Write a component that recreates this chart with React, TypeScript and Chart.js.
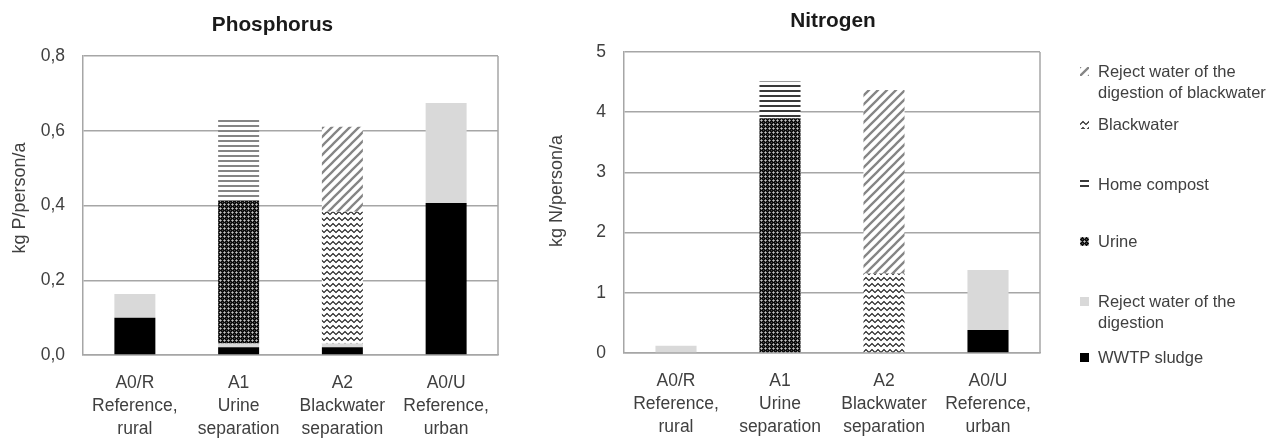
import React, { useEffect, useRef } from "react";
import { Chart, registerables } from "chart.js";

Chart.register(...registerables);

// ---------- data ----------
const categories: string[][] = [
  ["A0/R", "Reference,", "rural"],
  ["A1", "Urine", "separation"],
  ["A2", "Blackwater", "separation"],
  ["A0/U", "Reference,", "urban"],
];

const seriesNames = [
  "WWTP sludge",
  "Reject water of the digestion",
  "Urine",
  "Blackwater",
  "Home compost",
  "Reject water of the digestion of blackwater",
];

// Phosphorus (kg P/person/a)
const wwtpP = [0.1, 0.021, 0.021, 0.407];
const rejectP = [0.063, 0.01, 0.01, 0.267];
const urineP = [0, 0.381, 0, 0];
const blackwaterP = [0, 0, 0.352, 0];
const compostP = [0, 0.222, 0, 0];
const rejectBwP = [0, 0, 0.228, 0];

// Nitrogen (kg N/person/a)
const wwtpN = [0, 0, 0, 0.38];
const rejectN = [0.12, 0, 0, 1.0];
const urineN = [0, 3.9, 0, 0];
const blackwaterN = [0, 0, 1.32, 0];
const compostN = [0, 0.61, 0, 0];
const rejectBwN = [0, 0, 3.05, 0];

const pTicks = [0, 0.2, 0.4, 0.6, 0.8];
const nTicks = [0, 1, 2, 3, 4, 5];

// ---------- styling ----------
const FONT = "'Liberation Sans', Arial, Helvetica, sans-serif";
const TXT = "#404040";
const GRID = "#a6a6a6";

type Kind = "wwtp" | "reject" | "urine" | "blackwater" | "compost" | "rejectBw";
const kinds: Kind[] = ["wwtp", "reject", "urine", "blackwater", "compost", "rejectBw"];

function makeTile(kind: Kind, dark: boolean): HTMLCanvasElement {
  const c = document.createElement("canvas");
  let w = 6, h = 6;
  if (kind === "urine") { w = 4; h = 4; }
  if (kind === "compost") { w = 6; h = 5; }
  if (kind === "rejectBw") { w = 9; h = 9; }
  if (kind === "blackwater") { w = 6; h = 6; }
  c.width = w; c.height = h;
  const g = c.getContext("2d")!;
  if (kind === "wwtp") { g.fillStyle = "#000"; g.fillRect(0, 0, w, h); }
  else if (kind === "reject") { g.fillStyle = "#d9d9d9"; g.fillRect(0, 0, w, h); }
  else if (kind === "urine") {
    g.fillStyle = "#0d0d0d"; g.fillRect(0, 0, w, h);
    g.fillStyle = "#8c8c8c";
    [[1, 0], [3, 0], [0, 1], [0, 3]].forEach(([x, y]) => g.fillRect(x, y, 1, 1));
    g.fillStyle = "#c4c4c4"; g.fillRect(0, 0, 1, 1);
    g.fillStyle = "#4a4a4a"; g.fillRect(2, 2, 1, 1);
  } else if (kind === "compost") {
    g.fillStyle = "#fff"; g.fillRect(0, 0, w, h);
    g.fillStyle = dark ? "#3a3a3a" : "#858585";
    g.fillRect(0, 0, w, 2);
  } else if (kind === "blackwater") {
    g.fillStyle = "#fff"; g.fillRect(0, 0, w, h);
    g.strokeStyle = "#1a1a1a"; g.lineWidth = 1.1;
    g.beginPath(); g.moveTo(-3, 1.5); g.lineTo(0, 4.5); g.lineTo(3, 1.5); g.lineTo(6, 4.5); g.lineTo(9, 1.5); g.stroke();
  } else if (kind === "rejectBw") {
    g.fillStyle = "#fff"; g.fillRect(0, 0, w, h);
    g.strokeStyle = "#858585"; g.lineWidth = 2.3;
    g.beginPath();
    g.moveTo(0, h); g.lineTo(w, 0);
    g.moveTo(-2, 2); g.lineTo(2, -2);
    g.moveTo(w - 2, h + 2); g.lineTo(w + 2, h - 2);
    g.stroke();
  }
  return c;
}

function fillFor(kind: Kind, dark: boolean): CanvasPattern | string {
  if (kind === "wwtp") return "#000";
  if (kind === "reject") return "#d9d9d9";
  const ctx = document.createElement("canvas").getContext("2d")!;
  return ctx.createPattern(makeTile(kind, dark), "repeat")!;
}

const decor = {
  id: "decor",
  beforeDatasetsDraw(chart: any) {
    const { ctx, chartArea } = chart;
    ctx.save();
    ctx.strokeStyle = GRID;
    ctx.lineWidth = 1.5;
    ctx.beginPath();
    ctx.moveTo(chartArea.right, chartArea.top);
    ctx.lineTo(chartArea.right, chartArea.bottom);
    ctx.stroke();
    ctx.restore();
  },
  afterDraw(chart: any) {
    const o = chart.options.plugins.decor;
    if (!o) return;
    const { ctx } = chart;
    ctx.save();
    ctx.fillStyle = "#1a1a1a";
    ctx.font = `bold 20.8px ${FONT}`;
    ctx.textAlign = "center";
    ctx.textBaseline = "middle";
    ctx.fillText(o.title, chart.width / 2, o.titleY);
    ctx.fillStyle = TXT;
    ctx.font = `18px ${FONT}`;
    ctx.translate(o.yTitleX, o.yTitleY);
    ctx.rotate(-Math.PI / 2);
    ctx.fillText(o.yTitle, 0, 0);
    ctx.restore();
  },
};

function buildChart(
  canvas: HTMLCanvasElement,
  series: number[][],
  dark: boolean,
  ticks: number[],
  fmt: (v: number) => string,
  geo: { yw: number; xh: number; top: number; right: number; title: string; titleY: number; yTitle: string; yTitleX: number; yTitleY: number }
) {
  const step = ticks[1] - ticks[0];
  return new Chart(canvas, {
    type: "bar",
    data: {
      labels: categories,
      datasets: series.map((vals, i) => ({
        label: seriesNames[i],
        data: vals,
        backgroundColor: fillFor(kinds[i], dark) as any,
        borderWidth: 0,
        categoryPercentage: 1,
        barPercentage: 0.395,
      })),
    },
    options: {
      responsive: false,
      animation: false,
      devicePixelRatio: 1,
      layout: { padding: { top: geo.top, right: geo.right, left: 0, bottom: 0 } },
      plugins: {
        legend: { display: false },
        tooltip: { enabled: false },
        decor: { title: geo.title, titleY: geo.titleY, yTitle: geo.yTitle, yTitleX: geo.yTitleX, yTitleY: geo.yTitleY },
      } as any,
      scales: {
        x: {
          stacked: true,
          grid: { display: false, drawTicks: false },
          border: { display: true, color: GRID, width: 1.5 },
          ticks: {
            color: TXT,
            font: { family: FONT, size: 17.5, lineHeight: 1.31 },
            padding: 16.5,
            autoSkip: false,
            maxRotation: 0,
          },
          afterFit: (s: any) => { s.height = geo.xh; },
        },
        y: {
          stacked: true,
          min: ticks[0],
          max: ticks[ticks.length - 1],
          ticks: {
            stepSize: step,
            padding: 18,
            color: TXT,
            font: { family: FONT, size: 17.5 },
            callback: (v: any) => fmt(Number(v)),
          },
          grid: { color: GRID, lineWidth: 1.5, drawTicks: false },
          border: { display: true, color: GRID, width: 1.5 },
          afterFit: (s: any) => { s.width = geo.yw; },
        },
      },
    } as any,
    plugins: [decor],
  });
}

const legendItems: { kind: Kind; lines: string[]; top: number }[] = [
  { kind: "rejectBw", lines: ["Reject water of the", "digestion of blackwater"], top: 61 },
  { kind: "blackwater", lines: ["Blackwater"], top: 114 },
  { kind: "compost", lines: ["Home compost"], top: 174 },
  { kind: "urine", lines: ["Urine"], top: 231 },
  { kind: "reject", lines: ["Reject water of the", "digestion"], top: 291 },
  { kind: "wwtp", lines: ["WWTP sludge"], top: 347 },
];

function Swatch({ kind }: { kind: Kind }) {
  const ref = useRef<HTMLCanvasElement>(null);
  useEffect(() => {
    const c = ref.current;
    if (!c) return;
    const g = c.getContext("2d")!;
    g.clearRect(0, 0, c.width, c.height);
    g.fillStyle = fillFor(kind, true) as any;
    g.fillRect(0, 0, c.width, c.height);
  }, [kind]);
  return <canvas ref={ref} width={9} height={9} style={{ position: "absolute", left: 0, top: 6 }} />;
}

export default function App() {
  const pRef = useRef<HTMLCanvasElement>(null);
  const nRef = useRef<HTMLCanvasElement>(null);

  useEffect(() => {
    const fmtP = (v: number) => v.toFixed(1).replace(".", ",");
    const fmtN = (v: number) => String(Math.round(v));
    const pc = buildChart(
      pRef.current!,
      [wwtpP, rejectP, urineP, blackwaterP, compostP, rejectBwP],
      false,
      pTicks,
      fmtP,
      { yw: 83, xh: 86, top: 56, right: 47, title: "Phosphorus", titleY: 25, yTitle: "kg P/person/a", yTitleX: 20, yTitleY: 198 }
    );
    const nc = buildChart(
      nRef.current!,
      [wwtpN, rejectN, urineN, blackwaterN, compostN, rejectBwN],
      true,
      nTicks,
      fmtN,
      { yw: 79, xh: 88, top: 52, right: 81, title: "Nitrogen", titleY: 21, yTitle: "kg N/person/a", yTitleX: 12, yTitleY: 191 }
    );
    return () => {
      pc.destroy();
      nc.destroy();
    };
  }, []);

  return (
    <div style={{ position: "absolute", left: 0, top: 0, width: 1287, height: 441, background: "#fff", overflow: "hidden" }}>
      <canvas ref={pRef} width={545} height={441} style={{ position: "absolute", left: 0, top: 0 }} />
      <canvas ref={nRef} width={576} height={441} style={{ position: "absolute", left: 545, top: 0 }} />
      <div style={{ position: "absolute", left: 1080, top: 0, width: 207, height: 441, fontFamily: FONT, fontSize: 16.5, lineHeight: "21px", color: TXT }}>
        {legendItems.map((it) => (
          <div key={it.kind} style={{ position: "absolute", left: 0, top: it.top, width: 207 }}>
            <Swatch kind={it.kind} />
            <div style={{ marginLeft: 18, whiteSpace: "nowrap" }}>
              {it.lines.map((l, i) => (
                <div key={i}>{l}</div>
              ))}
            </div>
          </div>
        ))}
      </div>
    </div>
  );
}
